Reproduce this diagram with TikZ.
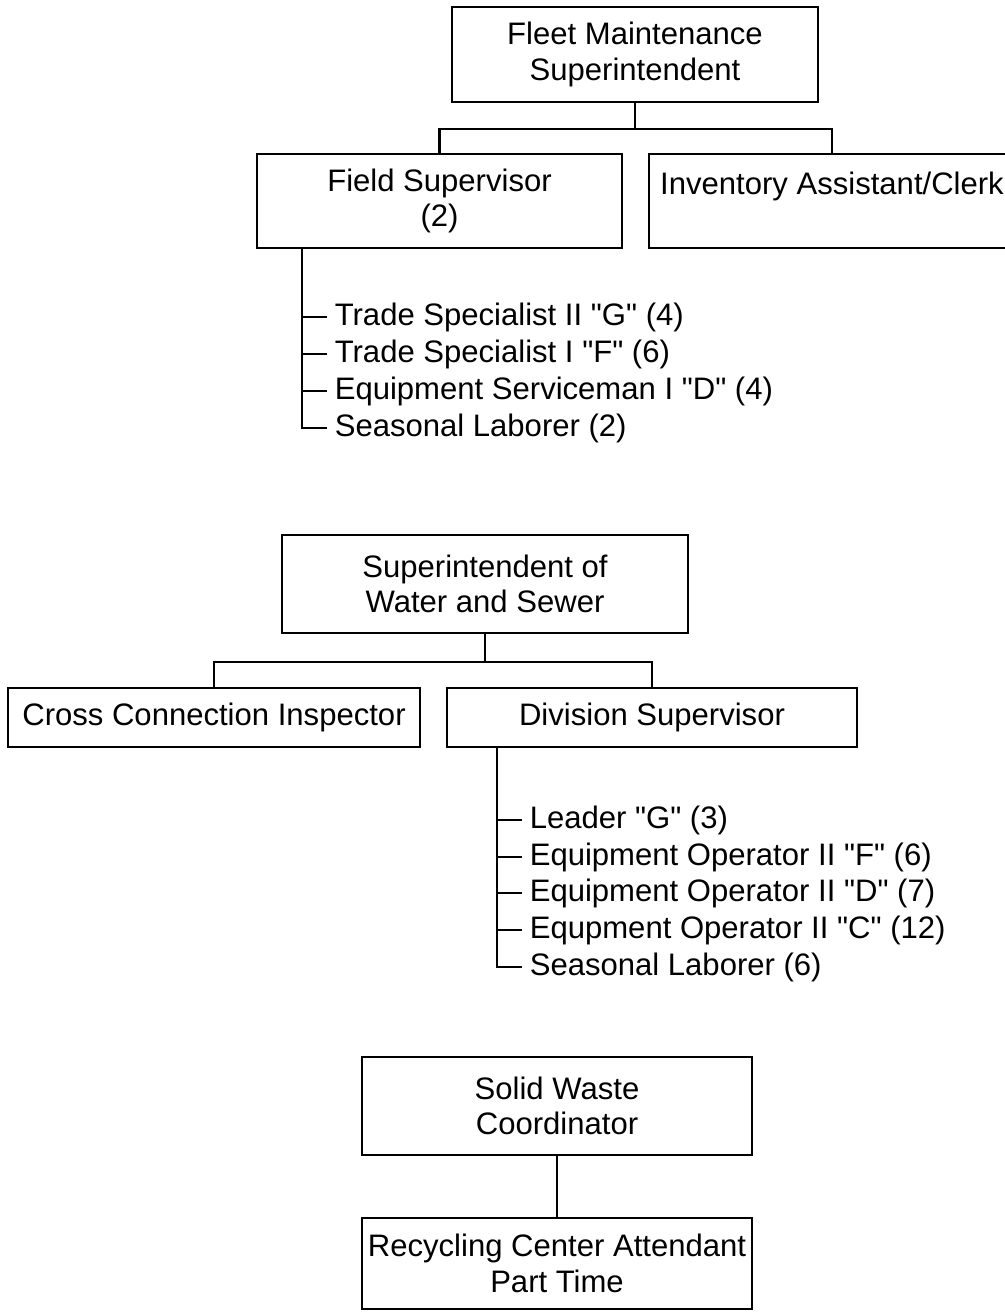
\documentclass[tikz,border=0pt]{standalone}
\usepackage{fontspec}
\setmainfont{Liberation Sans}
\usetikzlibrary{positioning}

\newcommand{\dq}{\textquotedbl}
\tikzset{every picture/.style={line width=1.7pt}}
\tikzset{
  orgbox/.style={draw, align=center, inner sep=2pt, font=\fontsize{23.3pt}{26.8pt}\selectfont},
  listitem/.style={anchor=west, inner xsep=5pt, inner ysep=1pt, font=\fontsize{23.3pt}{26.8pt}\selectfont},
  orgline/.style={line width=1.6pt}
}

\begin{document}
\begin{tikzpicture}[x=0.75pt,y=0.75pt,yscale=-1,xscale=1]
\useasboundingbox (0,0) rectangle (1005,1312);

%Fleet maintenance part
% Text Node
\node [orgbox, minimum width=274.5pt, minimum height=71.25pt] (fleet) at (635,54.5) {Fleet Maintenance\\Superintendent};
% Text Node
\node [orgbox, minimum width=273.75pt, minimum height=70.5pt] (field) at (439.5,201) {Field Supervisor\\(2)};
% Text Node
\node [orgbox, minimum width=274.5pt, minimum height=70.5pt] (inv) at (832,201) {Inventory Assistant/Clerk\\\mbox{}};
%Straight Lines
\draw [orgline] (fleet.south) -- ++(0,26) coordinate (fm-bus) -| (field.north);
\draw [orgline] (fm-bus) -| (inv.north);

% Text Node
\node [listitem] (ts2) at (327,317) {Trade Specialist II \dq G\dq{} (4)};
\node [listitem] (ts1) at (327,354) {Trade Specialist I \dq F\dq{} (6)};
\node [listitem] (es1) at (327,391) {Equipment Serviceman I \dq D\dq{} (4)};
\node [listitem] (sl2) at (327,428) {Seasonal Laborer (2)};
%Straight Lines
\coordinate (fs-trunk) at (302,248);
\draw [orgline] (fs-trunk) |- (sl2.west);
\foreach \item in {ts2,ts1,es1}
  \draw [orgline] (fs-trunk |- \item.west) -- (\item.west);

%Water and sewer part
% Text Node
\node [orgbox, minimum width=304.5pt, minimum height=73.5pt] (water) at (485,584) {Superintendent of\\Water and Sewer};
% Text Node
\node [orgbox, minimum width=309pt, minimum height=44.25pt] (cross) at (214,717.5) {Cross Connection Inspector};
% Text Node
\node [orgbox, minimum width=307.5pt, minimum height=44.25pt] (div) at (652,717.5) {Division Supervisor};
%Straight Lines
\draw [orgline] (water.south) -- ++(0,28) coordinate (ws-bus) -| (cross.north);
\draw [orgline] (ws-bus) -| (div.north);

% Text Node
\node [listitem] (ldg) at (522,820) {Leader \dq G\dq{} (3)};
\node [listitem] (eof) at (522,857) {Equipment Operator II \dq F\dq{} (6)};
\node [listitem] (eod) at (522,893) {Equipment Operator II \dq D\dq{} (7)};
\node [listitem] (eoc) at (522,930) {Equpment Operator II \dq C\dq{} (12)};
\node [listitem] (sl6) at (522,967) {Seasonal Laborer (6)};
%Straight Lines
\coordinate (ds-trunk) at (497,747);
\draw [orgline] (ds-trunk) |- (sl6.west);
\foreach \item in {ldg,eof,eod,eoc}
  \draw [orgline] (ds-trunk |- \item.west) -- (\item.west);

%Solid waste part
% Text Node
\node [orgbox, minimum width=292.5pt, minimum height=73.5pt] (solid) at (557,1106) {Solid Waste\\Coordinator};
% Text Node
\node [orgbox, minimum width=292.5pt, minimum height=68.25pt] (recyc) at (557,1263.5) {Recycling Center Attendant\\Part Time};
%Straight Lines
\draw [orgline] (solid) -- (recyc);

\end{tikzpicture}
\end{document}
